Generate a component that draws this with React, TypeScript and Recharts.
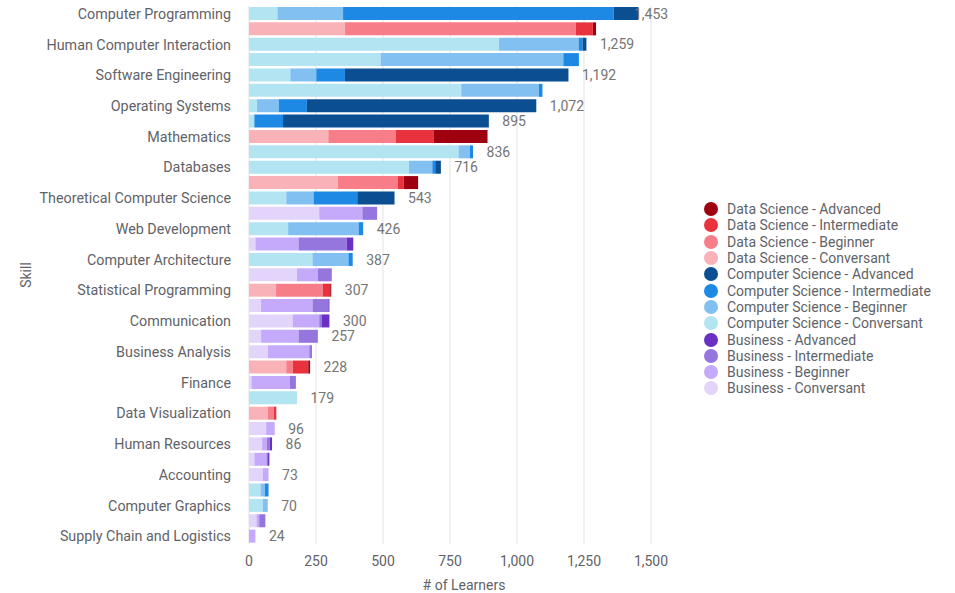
import React from 'react';
import { ComposedChart, Bar, Line, XAxis, YAxis, CartesianGrid, LabelList } from 'recharts';

const FONT = 'Roboto, "Noto Sans", sans-serif';
const TEXT = '#5f6368';

// One row per bar; only every other row carries a visible axis label
const skills = [
    'Computer Programming', '', 'Human Computer Interaction', '', 'Software Engineering', '',
    'Operating Systems', '', 'Mathematics', '', 'Databases', '', 'Theoretical Computer Science', '',
    'Web Development', '', 'Computer Architecture', '', 'Statistical Programming', '',
    'Communication', '', 'Business Analysis', '', 'Finance', '', 'Data Visualization', '',
    'Human Resources', '', 'Accounting', '', 'Computer Graphics', '', 'Supply Chain and Logistics',
];

// Which domain each row belongs to
const rowDomain = [
    'cs', 'ds', 'cs', 'cs', 'cs', 'cs', 'cs', 'cs', 'ds', 'cs', 'cs', 'ds', 'cs', 'bus', 'cs', 'bus', 'cs', 'bus',
    'ds', 'bus', 'bus', 'bus', 'bus', 'ds', 'bus', 'cs', 'ds', 'bus', 'bus', 'bus', 'bus', 'cs', 'cs', 'bus', 'bus',
];

const conversant = [106, 358, 933, 491, 154, 792, 30, 20, 296, 782, 597, 331, 139, 262, 146, 24, 237, 179, 101, 45, 163, 45, 71, 139, 9, 179, 70, 64, 49, 20, 51, 43, 51, 28, 0];
const beginner = [245, 861, 297, 682, 97, 290, 81, 0, 252, 42, 87, 225, 102, 161, 263, 161, 134, 78, 174, 192, 99, 140, 154, 24, 143, 0, 22, 32, 18, 45, 22, 16, 19, 10, 24];
const intermediate = [1010, 64, 15, 58, 107, 13, 105, 107, 142, 12, 11, 21, 163, 55, 17, 180, 16, 52, 28, 59, 10, 72, 10, 58, 23, 0, 10, 0, 10, 6, 0, 14, 0, 23, 0];
const advanced = [92, 12, 14, 0, 834, 0, 856, 768, 200, 0, 21, 54, 139, 0, 0, 24, 0, 0, 4, 4, 28, 0, 0, 7, 0, 0, 0, 0, 9, 5, 0, 0, 0, 0, 0];

// Data labels that are shown on the chart (null = hidden)
const totals = [1453, null, 1259, null, 1192, null, 1072, 895, null, 836, 716, null, 543, null, 426, null, 387, null, 307, null, 300, 257, null, 228, null, 179, null, 96, 86, null, 73, null, 70, null, 24];

const xTicks = [0, 250, 500, 750, 1000, 1250, 1500];

const domains = [
    { key: 'ds', name: 'Data Science', colors: ['#f9b3b8', '#f77d89', '#e8333f', '#9e0010'] },
    { key: 'cs', name: 'Computer Science', colors: ['#b3e4f2', '#83c0f2', '#1e88e5', '#0b4e91'] },
    { key: 'bus', name: 'Business', colors: ['#e2d4fb', '#c5a9fb', '#9575de', '#6a30c4'] },
];
const levels = ['Conversant', 'Beginner', 'Intermediate', 'Advanced'];
const levelValues = [conversant, beginner, intermediate, advanced];

// stack order: conversant -> advanced within each domain
const series = domains.flatMap(d => levels.map((lvl, li) => ({
    key: `${d.key}_${li}`,
    domain: d.key,
    level: li,
    name: `${d.name} - ${lvl}`,
    color: d.colors[li],
})));

// legend lists advanced first
const legendItems = domains.flatMap(d => [3, 2, 1, 0].map(li => ({
    name: `${d.name} - ${levels[li]}`,
    color: d.colors[li],
})));

const data = skills.map((skill, i) => {
    const row: any = { id: i, total: totals[i], end: 0 };
    series.forEach(s => {
        row[s.key] = rowDomain[i] === s.domain ? levelValues[s.level][i] : 0;
        row.end += row[s.key];
    });
    return row;
});

function ValueLabel(props: any) {
    const { value } = props;
    if (value === null || value === undefined) return null;
    const vb = props.viewBox || {};
    const px = props.x ?? vb.x;
    const py = props.y ?? vb.y;
    const x = Math.min(px + 13.5, 634);
    return (
        <text x={x} y={py} dominantBaseline="central" fill="#757575" fontSize={14} fontFamily={FONT}>
            {value.toLocaleString('en-US')}
        </text>
    );
}

function SkillTitle(props: any) {
    const vb = props.viewBox;
    const cy = vb.y + vb.height / 2;
    return (
        <text x={26} y={cy} transform={`rotate(-90 26 ${cy})`} textAnchor="middle"
            dominantBaseline="central" fill={TEXT} fontSize={14} fontFamily={FONT}>
            Skill
        </text>
    );
}

function LearnersTitle(props: any) {
    const vb = props.viewBox;
    return (
        <text x={vb.x + vb.width / 2 + 14} y={585} textAnchor="middle"
            dominantBaseline="central" fill={TEXT} fontSize={14} fontFamily={FONT}>
            # of Learners
        </text>
    );
}

function SkillLegend() {
    return (
        <div style={{ position: 'absolute', left: 704, top: 201, fontFamily: FONT, fontSize: 14, color: TEXT }}>
            {legendItems.map(item => (
                <div key={item.name} style={{ display: 'flex', alignItems: 'center', height: 16.3 }}>
                    <span style={{
                        width: 14, height: 14, borderRadius: '50%', background: item.color,
                        display: 'inline-block', marginRight: 9,
                    }} />
                    <span style={{ whiteSpace: 'nowrap', lineHeight: '16px' }}>{item.name}</span>
                </div>
            ))}
        </div>
    );
}

export default function App() {
    return (
        <div style={{ position: 'absolute', left: 0, top: 0, width: 955, height: 593, background: '#fff' }}>
            <ComposedChart
                layout="vertical"
                width={955}
                height={593}
                data={data}
                barCategoryGap={1}
                margin={{ top: 6, right: 304, bottom: 0, left: 0 }}
            >
                <CartesianGrid horizontal={false} stroke="#e3e3e3" />
                <XAxis
                    type="number"
                    domain={[0, 1500]}
                    ticks={xTicks}
                    height={49}
                    axisLine={false}
                    tickLine={false}
                    tickSize={0}
                    tickMargin={12}
                    tick={{ fill: TEXT, fontSize: 14, fontFamily: FONT }}
                    tickFormatter={(v: number) => v.toLocaleString('en-US')}
                    label={<LearnersTitle />}
                />
                <YAxis
                    type="category"
                    dataKey="id"
                    width={249}
                    interval={0}
                    axisLine={false}
                    tickLine={false}
                    tickSize={0}
                    tickMargin={18}
                    tick={{ fill: TEXT, fontSize: 14.3, fontFamily: FONT }}
                    tickFormatter={(v: number) => skills[v]}
                    label={<SkillTitle />}
                />
                {series.map(s => (
                    <Bar
                        key={s.key}
                        dataKey={s.key}
                        name={s.name}
                        stackId="skill"
                        fill={s.color}
                        isAnimationActive={false}
                    />
                ))}
                {/* invisible line through the bar ends, only used to place the totals */}
                <Line
                    dataKey="end"
                    stroke="none"
                    dot={false}
                    activeDot={false}
                    legendType="none"
                    isAnimationActive={false}
                >
                    <LabelList dataKey="total" content={<ValueLabel />} />
                </Line>
            </ComposedChart>
            <SkillLegend />
        </div>
    );
}
